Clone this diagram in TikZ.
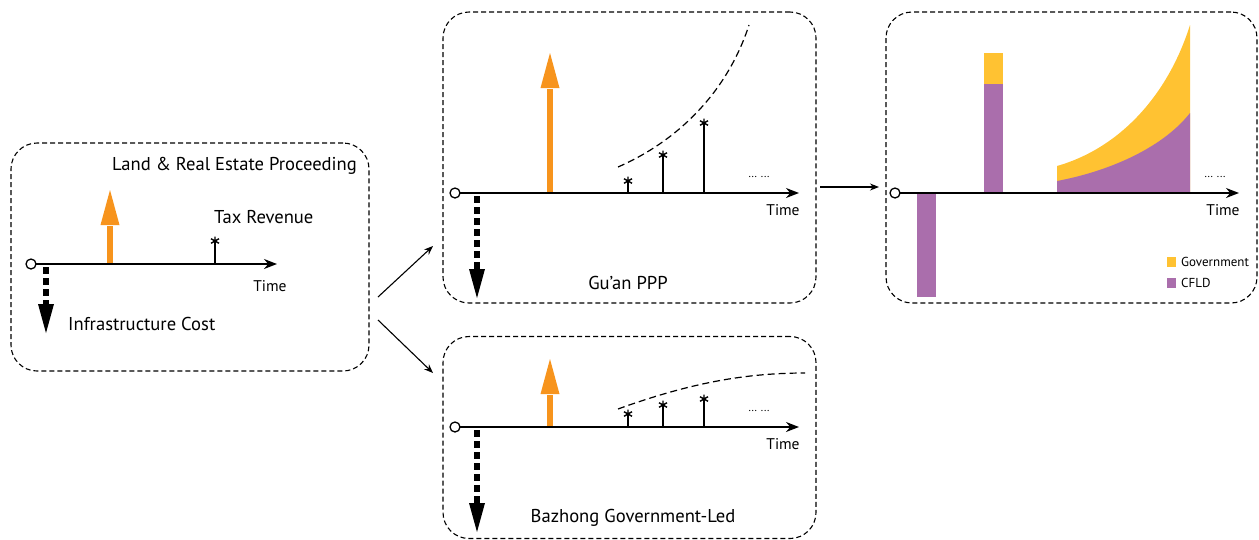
\documentclass[tikz,border=0pt]{standalone}
\usepackage{fontspec}
\setmainfont{PT Sans}
\usetikzlibrary{arrows.meta}
\definecolor{flow}{HTML}{F7941D}
\definecolor{gov}{HTML}{FFC232}
\definecolor{cfld}{HTML}{AA6EAC}
\tikzset{
  panel/.style={draw, dashed, dash pattern=on 5pt off 3pt, line width=1.1pt, rounded corners=26pt, inner sep=0pt},
  axis/.style={line width=1.5pt, -{Stealth[length=13pt,width=10pt]}},
  link/.style={line width=1.1pt, -{Stealth[length=9pt,width=7pt]}},
  stem/.style={line width=1.4pt},
  trend/.style={line width=1.2pt, dash pattern=on 7pt off 4pt},
  lbl/.style={font=\fontsize{18.6}{21}\selectfont, inner sep=0pt},
  tlbl/.style={font=\fontsize{15.5}{17}\selectfont, inner sep=0pt},
  dots/.style={font=\fontsize{11}{12}\selectfont, inner sep=0pt},
  leg/.style={font=\fontsize{13}{14}\selectfont, inner sep=0pt, anchor=west},
}
% orange inflow arrow: x, axis y, head base y, tip y
\newcommand{\inflow}[4]{%
  \draw[flow, line width=6.5pt] (#1,#2) -- (#1,#3+1);
  \fill[flow] (#1-9.5,#3) -- (#1,#4) -- (#1+9.5,#3) -- cycle;}
% black dashed outflow arrow: x, start y, head base y, tip y
\newcommand{\outflow}[4]{%
  \draw[black, line width=6pt, dash pattern=on 7pt off 4pt] (#1,#2) -- (#1,#3);
  \fill[black] (#1-8,#3) -- (#1,#4) -- (#1+8,#3) -- cycle;}
% revenue stem with an asterisk on top: x, axis y, top y
\newcommand{\revstem}[3]{%
  \draw[stem] (#1,#2) -- (#1,#3);
  \draw[line width=1.4pt] (#1,#3-4.5) -- (#1,#3+4.5)
    (#1-4,#3-2.3) -- (#1+4,#3+2.3) (#1-4,#3+2.3) -- (#1+4,#3-2.3);}
% timeline: start x, y, end x
\newcommand{\timeline}[3]{%
  \draw[axis] (#1+5,#2) -- (#3,#2);
  \draw[line width=1.3pt, fill=white] (#1,#2) circle (5pt);}
\begin{document}
\begin{tikzpicture}[x=1pt, y=-1pt]
\useasboundingbox (0,0) rectangle (1259,539);

% panels
\node[panel, minimum width=358pt, minimum height=228pt] (base) at (190,257) {};
\node[panel, minimum width=373pt, minimum height=291pt] (guan) at (629.5,157.5) {};
\node[panel, minimum width=371pt, minimum height=291pt] (share) at (1071.5,157.5) {};
\node[panel, minimum width=373pt, minimum height=202pt] (bazhong) at (629.5,437.5) {};

% links between panels
\coordinate (l1s) at (378,297); \coordinate (l1e) at (433,246);
\coordinate (l2s) at (378,320); \coordinate (l2e) at (433,373);
\coordinate (l3s) at (820,187); \coordinate (l3e) at (879,187);
\draw[link] (l1s) -- (l1e);
\draw[link] (l2s) -- (l2e);
\draw[link] (l3s) -- (l3e);

% --- base case ---
\node[lbl, anchor=west] (t1) at (112,166) {Land \& Real Estate Proceeding};
\node[lbl, anchor=west] (t2) at (214,217) {Tax Revenue};
\node[lbl, anchor=west] (t3) at (68,324) {Infrastructure Cost};
\node[tlbl] (t4) at (270,286) {Time};
\outflow{46}{267}{304}{333}
\inflow{110}{264}{225}{190}
\revstem{215}{264}{241}
\timeline{31}{264}{277}

% --- Gu'an PPP ---
\outflow{477}{196}{269}{298}
\inflow{550}{193}{88}{53}
\revstem{628}{193}{181}
\revstem{663}{193}{155}
\revstem{704}{193}{123}
\draw[trend] (618,167) .. controls (680,140) and (728,90) .. (749,25);
\node[dots] (d2) at (759,177) {... ...};
\timeline{455}{193}{799}
\node[tlbl] (tm2) at (783,210) {Time};
\node[lbl] (n2) at (628,283) {Gu’an PPP};

% --- Bazhong Government-Led ---
\outflow{477}{430}{503}{532}
\inflow{550}{427}{394}{359}
\revstem{628}{427}{414}
\revstem{663}{427}{405}
\revstem{704}{427}{399}
\draw[trend] (618,409) .. controls (690,383) and (745,373) .. (805,373);
\node[dots] (d4) at (759,411) {... ...};
\timeline{455}{427}{799}
\node[tlbl] (tm4) at (783,444) {Time};
\node[lbl] (n4) at (633,518) {Bazhong Government-Led};

% --- cash-flow shares ---
\fill[cfld] (917,193) rectangle (936,297);
\fill[gov] (984,53) rectangle (1003,84);
\fill[cfld] (984,84) rectangle (1003,193);
\fill[gov] (1057,193) -- (1057,166) .. controls (1120,148) and (1168,95) .. (1190,25) -- (1190,193) -- cycle;
\fill[cfld] (1057,193) -- (1057,181) .. controls (1115,170) and (1165,145) .. (1190,113) -- (1190,193) -- cycle;
\node[dots] (d3) at (1215,177) {... ...};
\timeline{895}{193}{1239}
\node[tlbl] (tm3) at (1223,210) {Time};
\fill[gov] (1167,257) rectangle (1176,267);
\node[leg] (lg1) at (1181,262) {Government};
\fill[cfld] (1167,278) rectangle (1176,288);
\node[leg] (lg2) at (1181,283) {CFLD};
\end{tikzpicture}
\end{document}
